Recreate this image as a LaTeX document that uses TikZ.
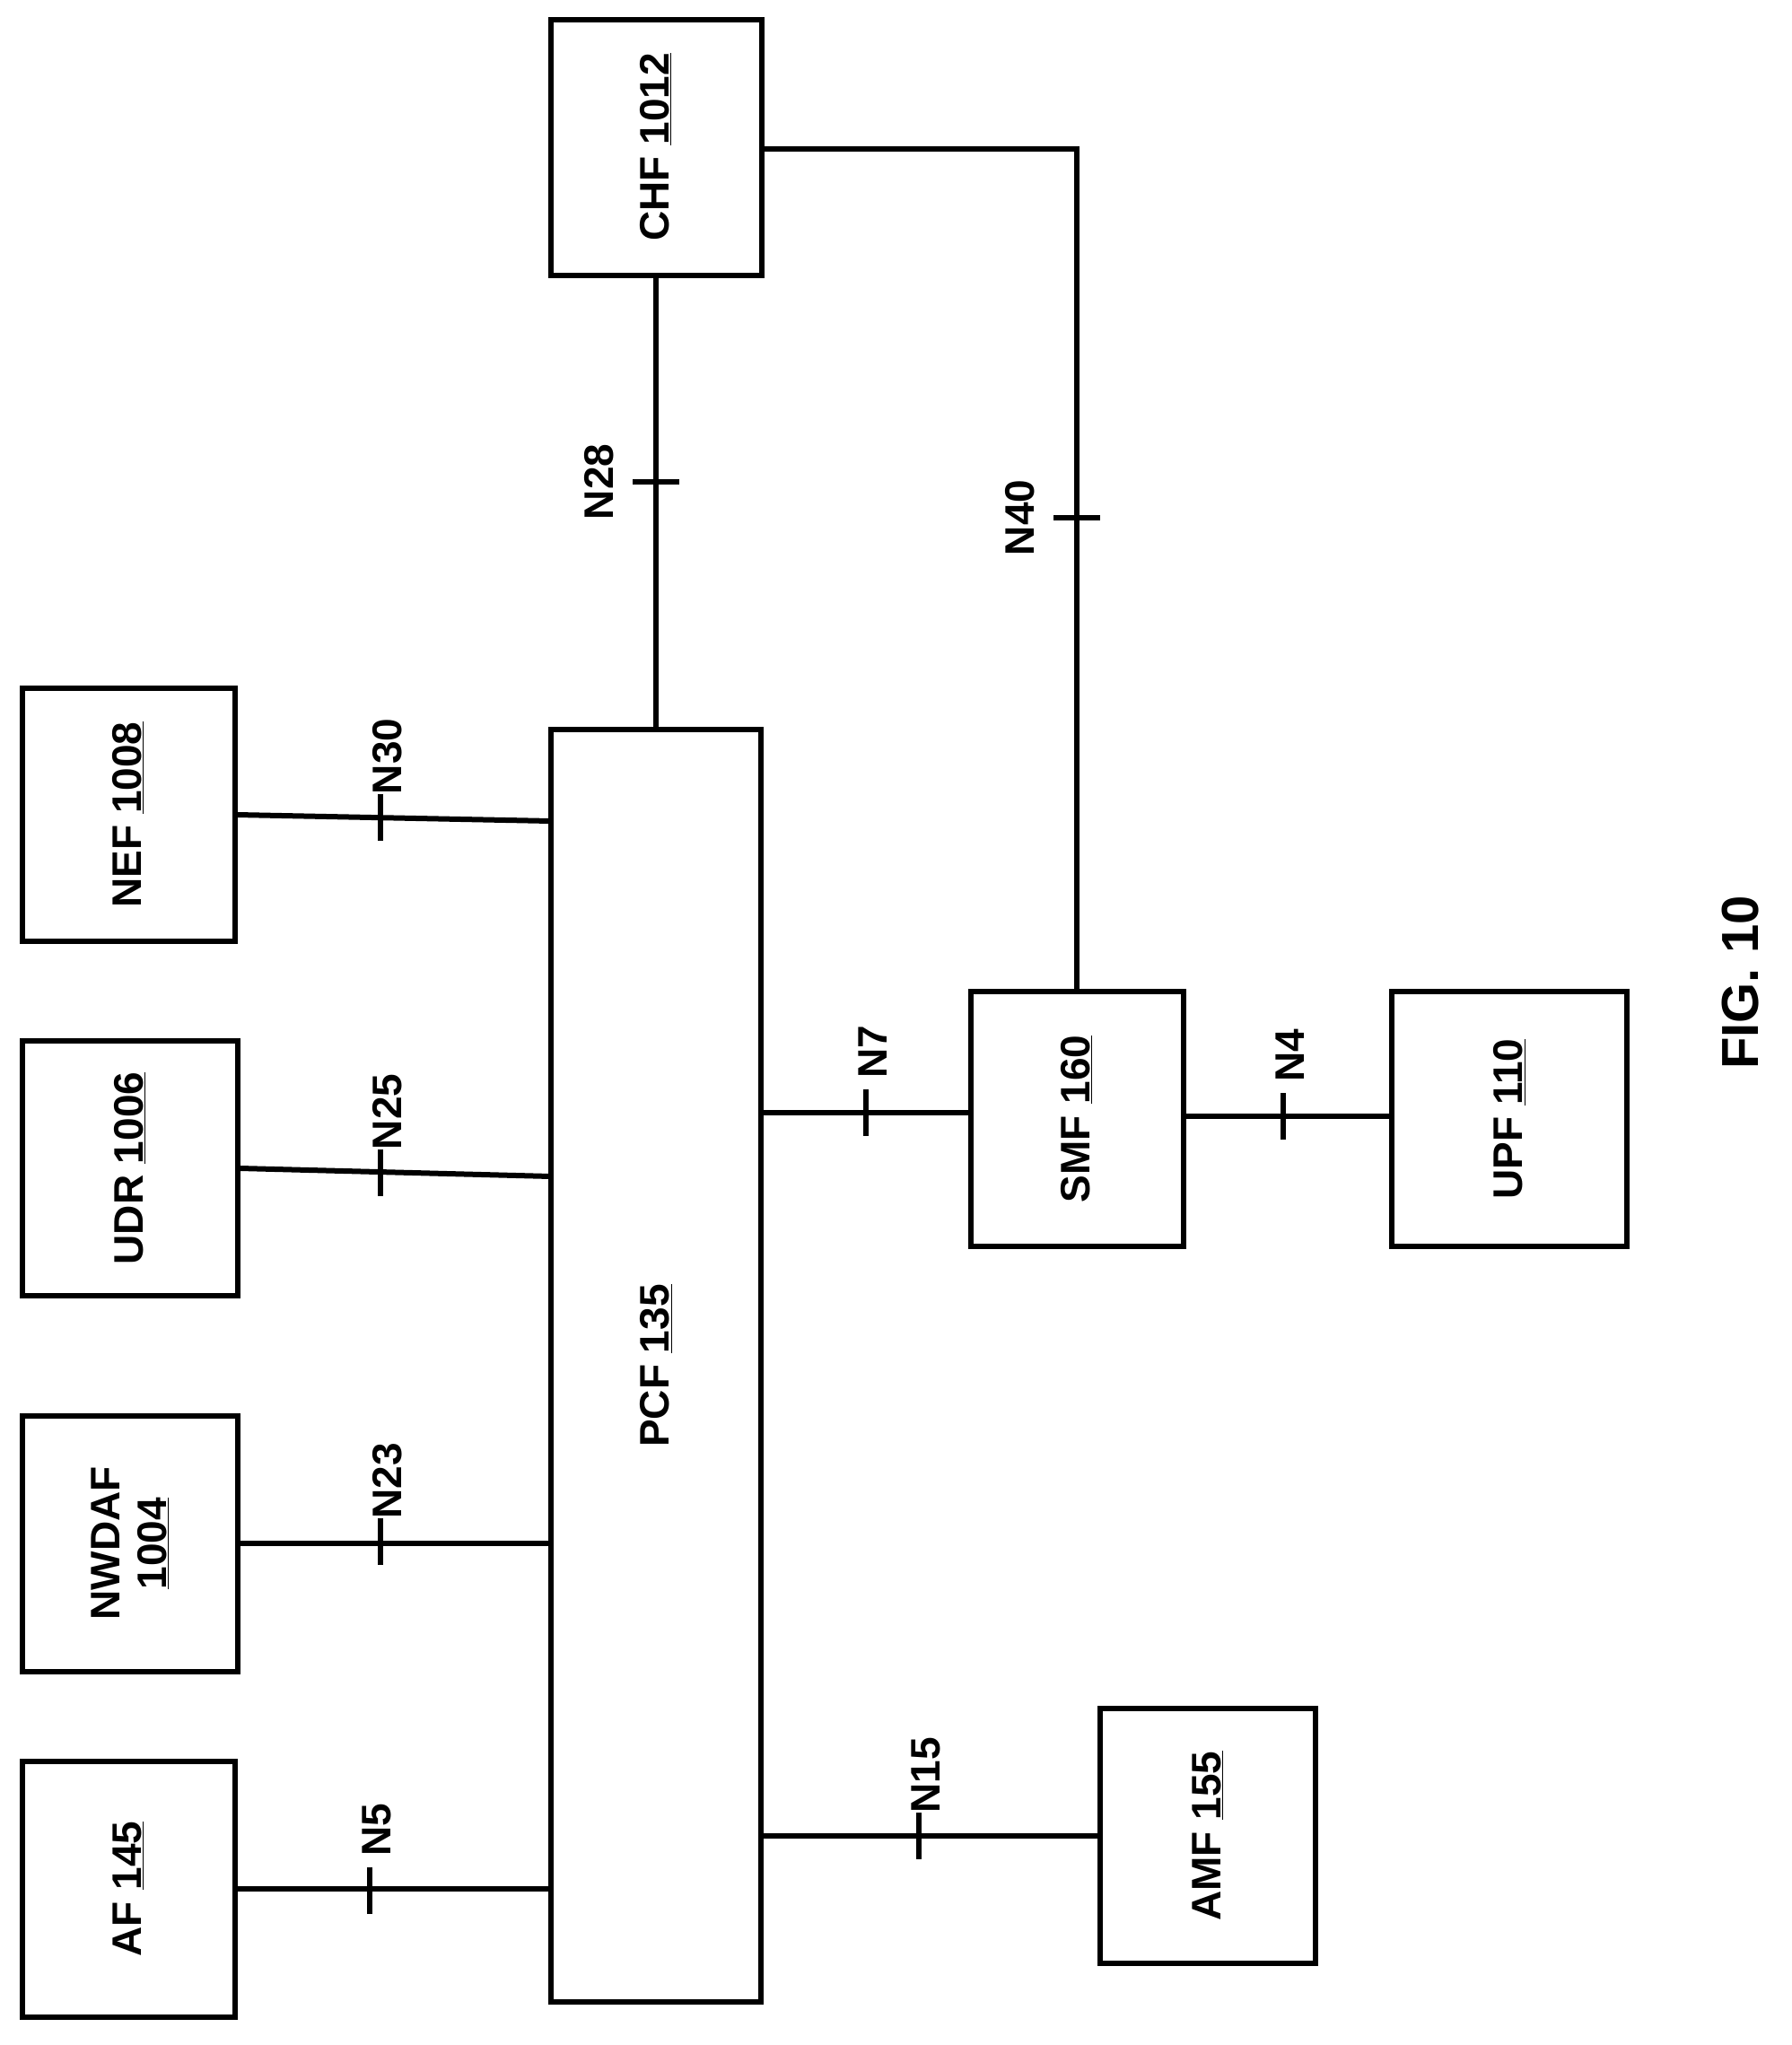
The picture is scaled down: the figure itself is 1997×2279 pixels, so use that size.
\documentclass[tikz,border=0pt]{standalone}
\usepackage{fontspec}
\setmainfont{Liberation Sans}
\begin{document}
\begin{tikzpicture}[x=1pt,y=-1pt,line width=6pt,
  box/.style={draw,line width=6pt,inner sep=0pt,font=\fontsize{46}{52}\selectfont\bfseries},
  lab/.style={rotate=90,font=\fontsize{46}{52}\selectfont\bfseries,inner sep=0pt}]
\useasboundingbox (0,0) rectangle (1997,2279);
\node[box,minimum width=237,minimum height=285] (af) at (143,2105) {};
\node[lab] at (af) {AF \underline{145}};
\node[box,minimum width=240,minimum height=285] (nwdaf) at (145,1720) {};
\node[lab,align=center] at (nwdaf) {NWDAF\\\underline{1004}};
\node[box,minimum width=240,minimum height=284] (udr) at (145,1302) {};
\node[lab] at (udr) {UDR \underline{1006}};
\node[box,minimum width=237,minimum height=282] (nef) at (143,908) {};
\node[lab] at (nef) {NEF \underline{1008}};
\node[box,minimum width=234,minimum height=1418] (pcf) at (731,1522) {};
\node[lab] at (pcf) {PCF \underline{135}};
\node[box,minimum width=235,minimum height=285] (chf) at (731,164) {};
\node[lab] at (chf) {CHF \underline{1012}};
\node[box,minimum width=237,minimum height=284] (smf) at (1200,1247) {};
\node[lab] at (smf) {SMF \underline{160}};
\node[box,minimum width=262,minimum height=284] (upf) at (1682,1247) {};
\node[lab] at (upf) {UPF \underline{110}};
\node[box,minimum width=240,minimum height=284] (amf) at (1346,2046) {};
\node[lab] at (amf) {AMF \underline{155}};
\node[rotate=90,font=\fontsize{58}{64}\selectfont\bfseries] (fig) at (1940,1095) {FIG. 10};
% connectors
\coordinate (p5) at (pcf.west|-af.east);
\draw (af.east) -- (p5);
\coordinate (p23) at (pcf.west|-nwdaf.east);
\draw (nwdaf.east) -- (p23);
\coordinate (p25) at (614,1311);
\draw (udr.east) -- (p25);
\coordinate (p30) at (614,915);
\draw (nef.east) -- (p30);
\coordinate (p7) at (pcf.east|-0,1240);
\draw (p7) -- (smf.west|-p7);
\coordinate (s4) at (smf.east|-0,1244);
\draw (s4) -- (upf.west|-s4);
\coordinate (p15) at (pcf.east|-amf.west);
\draw (p15) -- (amf.west);
\draw (chf.south) -- (pcf.north);
\coordinate (c40) at (chf.east|-0,166);
\draw (c40) -- (smf.north|-c40) -- (smf.north);
% ticks and labels
\foreach \x/\y/\t in {412/2107/N5,424/1718/N23,424/1307/N25,424/911/N30,965/1240/N7,1430/1244/N4,1024/2046/N15}{
  \draw (\x,\y-26) -- (\x,\y+26);
  \node[lab] at (\x+8,\y-68) {\t};
}
\foreach \x/\y/\t in {731/537/N28,1200/577/N40}{
  \draw (\x-26,\y) -- (\x+26,\y);
  \node[lab] at (\x-63,\y) {\t};
}
\end{tikzpicture}
\end{document}
